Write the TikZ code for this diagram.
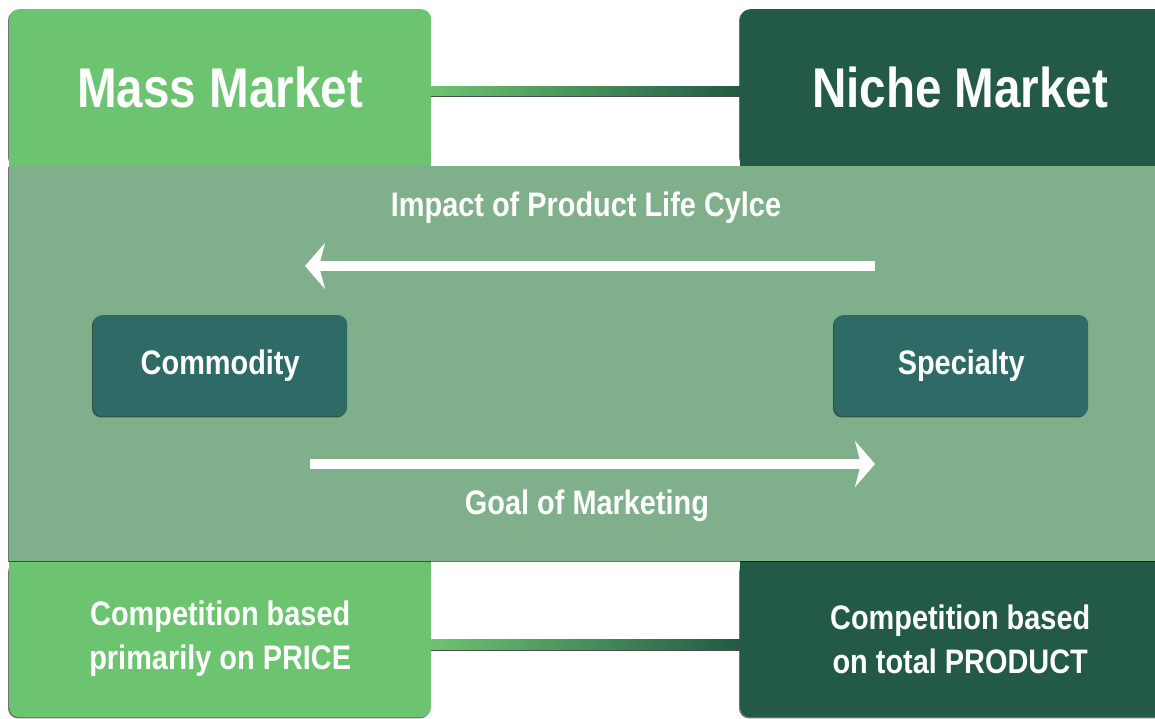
\documentclass[tikz,border=0pt]{standalone}
\usepackage{fontspec}
\setmainfont{Liberation Sans}[FakeStretch=0.85]
\usetikzlibrary{arrows.meta,shadows,calc}
\definecolor{massc}{HTML}{6CC470}
\definecolor{nichec}{HTML}{225A45}
\definecolor{bandc}{HTML}{80B08B}
\definecolor{boxc}{HTML}{2E6B66}
\begin{document}
\begin{tikzpicture}[x=1pt,y=-1pt,
  shad/.style={drop shadow={shadow xshift=-1.2pt, shadow yshift=-1.2pt, fill=black, opacity=0.55}},
  panel/.style={anchor=north west, inner sep=0pt, rounded corners=10pt, shad, text=white},
  titletxt/.style={font=\bfseries\fontsize{56}{60}\selectfont},
  lbl/.style={text=white, font=\bfseries\fontsize{34}{44}\selectfont, align=center},
  conn/.style={left color=massc, right color=nichec},
  arr/.style={white, line width=10pt, -{Stealth[length=20pt,width=46pt,inset=6pt]}}
]
\useasboundingbox (0,0) rectangle (1155,719);
\fill[white] (0,0) rectangle (1155,719);

% top boxes
\node[panel, fill=massc, minimum width=422pt, minimum height=157pt, titletxt] (mass) at (9,9) {Mass Market};
\fill[massc] (mass.south west) rectangle ([yshift=12pt]mass.south east);
\node[panel, fill=nichec, minimum width=440pt, minimum height=157pt, titletxt] (niche) at (740,9) {Niche Market};
\fill[nichec] (niche.south west) rectangle ([yshift=12pt]niche.south east);

% bottom boxes
\node[panel, fill=massc, minimum width=422pt, minimum height=156pt, lbl] (mbot) at (9,561) {Competition based\\primarily on PRICE};
\fill[massc] (mbot.north west) rectangle ([yshift=-12pt]mbot.north east);
\node[panel, fill=nichec, minimum width=440pt, minimum height=156pt, lbl] (nbot) at (740,561) {Competition based\\on total PRODUCT};
\fill[nichec] (nbot.north west) rectangle ([yshift=-12pt]nbot.north east);

% connectors
\shade[conn] ([yshift=1.5pt]mass.east) rectangle ([yshift=-8.5pt]niche.west);
\draw[black!70, line width=0.8pt] ([yshift=-8.5pt]mass.east) -- ([yshift=-8.5pt]niche.west);
\shade[conn] (mbot.east) rectangle ([yshift=-11pt]nbot.west);
\draw[black!70, line width=0.8pt] ([yshift=-11pt]mbot.east) -- ([yshift=-11pt]nbot.west);

% middle band
\node[anchor=north west, inner sep=0pt, fill=bandc, minimum width=1171pt, minimum height=395pt, shad] (band) at (9,166) {};

% inner boxes
\node[panel, rounded corners=9pt, fill=boxc, minimum width=254pt, minimum height=101pt, lbl] (comm) at (93,315) {Commodity};
\node[panel, rounded corners=9pt, fill=boxc, minimum width=254pt, minimum height=101pt, lbl] (spec) at (834,315) {Specialty};

% arrows
\coordinate (a1s) at (875,266);
\coordinate (a1e) at (305,266);
\coordinate (a2s) at (310,464);
\coordinate (a2e) at (875,464);
\draw[arr] (a1s) -- (a1e);
\draw[arr] (a2s) -- (a2e);

\node[lbl] (impact) at (586,208) {Impact of Product Life Cylce};
\node[lbl] (goal) at (587,506) {Goal of Marketing};
\end{tikzpicture}
\end{document}
